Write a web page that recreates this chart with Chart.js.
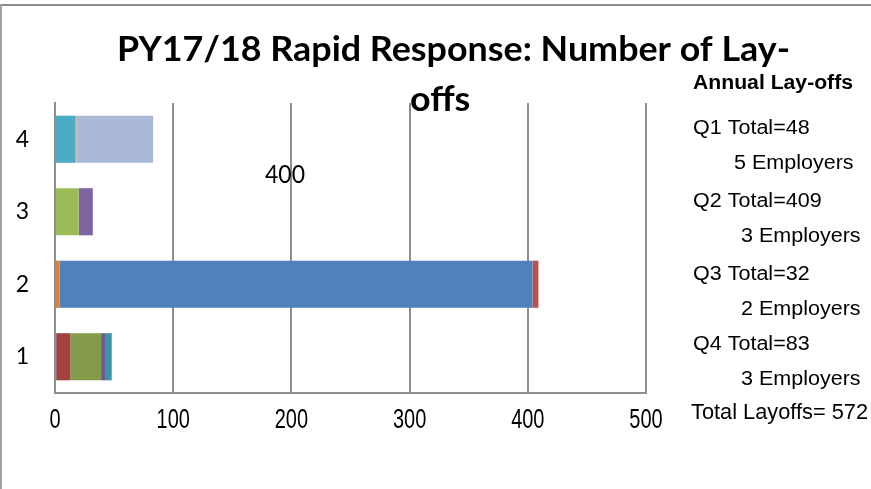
<!DOCTYPE html>
<html><head><meta charset="utf-8">
<script src="https://cdn.jsdelivr.net/npm/chart.js@4.4.1/dist/chart.umd.min.js"></script>
<style>html,body{margin:0;padding:0;background:#fff;overflow:hidden}#wrap{width:871px;height:489px;position:relative}canvas{display:block}</style>
</head><body><div id="wrap"><canvas id="c" width="871" height="489"></canvas></div>
<script>
// ---- data ----
const categories = ['1', '2', '3', '4'];
const q1Values = [1, 12, 26, 4, 5];
const q2Values = [4, 400, 5];
const q3Values = [20, 12];
const q4Values = [17, 1, 65];
const xTickValues = [0, 100, 200, 300, 400, 500];
const titleLines = ['PY17/18 Rapid Response: Number of Lay-', 'offs'];
const summaryTitle = 'Annual Lay-offs';
const floatingLabel = '400';

// ---- styles ----
const q1Colors = ['#4F81BD', '#A3433F', '#839A4A', '#6E5990', '#3D91A9'];
const q2Colors = ['#D8823C', '#4F81BD', '#C0504D'];
const q3Colors = ['#9BBB59', '#8064A2'];
const q4Colors = ['#4BACC6', '#F79646', '#A9B9D6'];

const quarters = [q1Values, q2Values, q3Values, q4Values];
const quarterColors = [q1Colors, q2Colors, q3Colors, q4Colors];

const datasets = [];
quarters.forEach((vals, qi) => {
  vals.forEach((v, j) => {
    datasets.push({
      label: 'Q' + (qi + 1) + ' employer ' + (j + 1),
      data: categories.map((_, k) => (k === qi ? v : null)),
      backgroundColor: quarterColors[qi][j],
      borderWidth: 0,
      categoryPercentage: 0.65,
      barPercentage: 1
    });
  });
});

const sum = a => a.reduce((s, v) => s + v, 0);
const grandTotal = sum(quarters.map(sum));

const GRID = '#8f8f8f';
const NARROW = '27px "Liberation Sans", Arial, sans-serif';
const NARROW_K = 0.74;

function drawScaled(ctx, text, x, y, font, sx, align) {
  ctx.font = font;
  const w = ctx.measureText(text).width * sx;
  let left = x;
  if (align === 'center') left = x - w / 2;
  ctx.save();
  ctx.translate(left, y);
  ctx.scale(sx, 1);
  ctx.textAlign = 'left';
  ctx.textBaseline = 'alphabetic';
  ctx.fillText(text, 0, 0);
  ctx.restore();
}
function fitText(ctx, text, x, y, font, width) {
  ctx.font = font;
  const m = ctx.measureText(text).width;
  drawScaled(ctx, text, x, y, font, width / m, 'left');
}

const decor = {
  id: 'decor',
  beforeDraw(chart) {
    const ctx = chart.ctx;
    ctx.save();
    ctx.fillStyle = '#ffffff';
    ctx.fillRect(0, 0, chart.width, chart.height);
    ctx.fillStyle = '#8c8c8c';
    ctx.fillRect(0, 4, chart.width, 2);
    ctx.fillStyle = '#a0a0a0';
    ctx.fillRect(0, 4, 2, chart.height - 4);
    ctx.restore();
  },
  afterDraw(chart) {
    const ctx = chart.ctx;
    ctx.save();
    ctx.fillStyle = '#000000';
    // title
    const tFont = 'bold 34px Lato, "Open Sans", sans-serif';
    ctx.font = tFont;
    const sx = 673 / ctx.measureText(titleLines[0]).width;
    drawScaled(ctx, titleLines[0], 117, 61, tFont, sx, 'left');
    drawScaled(ctx, titleLines[1], 410, 111, tFont, sx, 'left');

    // x tick labels (positions from the library's x scale)
    const xs = chart.scales.x;
    xTickValues.forEach(v => {
      drawScaled(ctx, String(v), xs.getPixelForValue(v), 428, NARROW, NARROW_K, 'center');
    });

    // floating data label
    fitText(ctx, floatingLabel, 265, 183, '25px Lato, sans-serif', 40);

    // summary
    const sf = '"Liberation Sans", Arial, sans-serif';
    fitText(ctx, summaryTitle, 693, 89, 'bold 20px ' + sf, 160);
    const k = 1.076;
    const rowY = [134, 169, 207, 242, 279.5, 314.5, 349.5, 384.5];
    quarters.forEach((vals, qi) => {
      const t1 = 'Q' + (qi + 1) + ' Total=' + sum(vals);
      const t2 = vals.length + ' Employers';
      drawScaled(ctx, t1, 693, rowY[qi * 2], '20px ' + sf, k, 'left');
      drawScaled(ctx, t2, qi === 0 ? 734 : 741, rowY[qi * 2 + 1], '20px ' + sf, k, 'left');
    });
    fitText(ctx, 'Total Layoffs= ' + grandTotal, 691, 419, '22px "Liberation Sans", Arial, sans-serif', 177);
    ctx.restore();
  }
};

new Chart(document.getElementById('c'), {
  type: 'bar',
  data: { labels: categories, datasets },
  plugins: [decor],
  options: {
    indexAxis: 'y',
    responsive: false,
    animation: false,
    devicePixelRatio: 1,
    layout: { padding: { top: 103, right: 225, left: 0, bottom: 0 } },
    plugins: { legend: { display: false }, tooltip: { enabled: false }, title: { display: false } },
    scales: {
      x: {
        type: 'linear', stacked: true, min: 0, max: 500, position: 'bottom',
        afterBuildTicks(s) { s.ticks = xTickValues.map(v => ({ value: v })); },
        ticks: { display: false },
        grid: { color: GRID, lineWidth: 2, drawTicks: false },
        border: { display: true, color: GRID, width: 2 },
        afterFit(s) { s.height = 96; }
      },
      y: {
        type: 'category', stacked: true, reverse: true,
        ticks: { color: '#000', font: { family: 'Lato, sans-serif', size: 23 }, padding: 26, crossAlign: 'center' },
        grid: { display: false, drawTicks: false },
        border: { display: true, color: GRID, width: 2 },
        afterFit(s) { s.width = 55; }
      }
    }
  }
});
</script>
</body></html>
